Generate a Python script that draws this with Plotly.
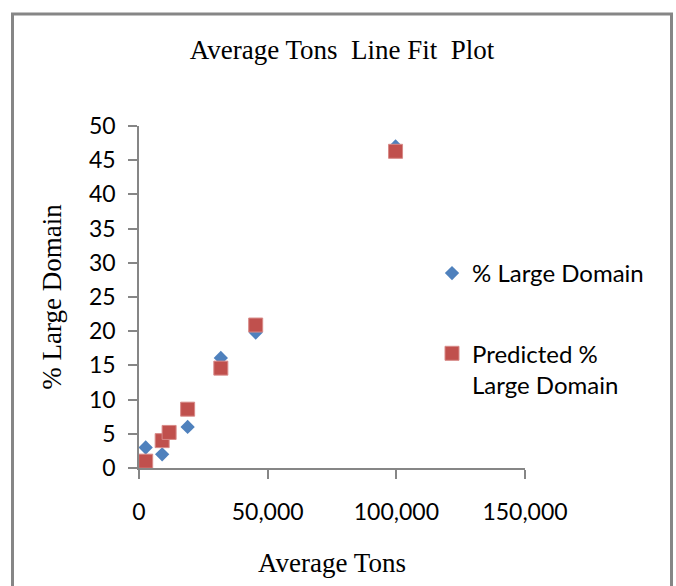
import plotly.graph_objects as go

# Average tons per site with observed and fitted share of large domain
avg_tons = [2600, 9000, 11700, 18900, 31800, 45350, 99700]
pct_large_domain = [3.0, 2.0, 5.1, 6.0, 16.1, 19.8, 47.0]
predicted_pct = [1.0, 4.0, 5.2, 8.6, 14.6, 20.9, 46.3]

x_ticks = [0, 50000, 100000, 150000]
y_ticks = [0, 5, 10, 15, 20, 25, 30, 35, 40, 45, 50]

BLUE = "#4F81BD"
RED = "#C0504D"
AXIS = "#868686"
SANS = "Lato"
SERIF = "Liberation Serif"

fig = go.Figure()
fig.add_trace(go.Scatter(
    x=avg_tons, y=pct_large_domain, mode="markers", name="% Large Domain",
    legendgroup="a",
    marker=dict(symbol="diamond", size=11, color=BLUE, line=dict(width=0)),
    cliponaxis=False,
))
fig.add_trace(go.Scatter(
    x=avg_tons, y=predicted_pct, mode="markers", name="Predicted %<br>Large Domain",
    legendgroup="b",
    marker=dict(symbol="square", size=14, color=RED, line=dict(width=1, color="#D88A88")),
    cliponaxis=False,
))

L, R, T, B = 139, 151, 126, 118
W = 676 - L - R
H = 586 - T - B

def px_x(p):
    return (p - L) / W

def px_y(p):
    return (586 - B - p) / H

# chart border
fig.add_shape(type="rect", xref="paper", yref="paper",
              x0=px_x(12.5), x1=px_x(671.5), y0=px_y(640), y1=px_y(14),
              line=dict(color=AXIS, width=3), fillcolor="rgba(0,0,0,0)", layer="below")

fig.update_layout(
    width=676, height=586,
    margin=dict(l=L, r=R, t=T, b=B),
    paper_bgcolor="white", plot_bgcolor="white",
    title=dict(text="Average Tons\u00a0 Line Fit\u00a0 Plot", xref="paper", x=px_x(342),
               xanchor="center", yref="container", y=1 - 50 / 586, yanchor="middle",
               font=dict(family=SERIF, size=27, color="black")),
    showlegend=True,
    legend=dict(x=px_x(432), xanchor="left", y=px_y(251), yanchor="top",
                traceorder="grouped", tracegroupgap=46, valign="top",
                font=dict(family=SANS, size=24, color="black"),
                bgcolor="rgba(0,0,0,0)"),
    xaxis=dict(range=[0, 150000], tickvals=x_ticks, tickformat=",",
               showgrid=False, zeroline=False, showline=True, linecolor=AXIS, linewidth=1.5,
               ticks="outside", ticklen=9, tickcolor=AXIS, tickwidth=1.5,
               ticklabelstandoff=14,
               tickfont=dict(family=SANS, size=23, color="black"),
               title=dict(text="Average Tons", standoff=29,
                          font=dict(family=SERIF, size=27, color="black"))),
    yaxis=dict(range=[0, 50], tickvals=y_ticks,
               showgrid=False, zeroline=False, showline=True, linecolor=AXIS, linewidth=1.5,
               ticks="outside", ticklen=9, tickcolor=AXIS, tickwidth=1.5,
               ticklabelstandoff=8,
               tickfont=dict(family=SANS, size=23, color="black"),
               title=dict(text="% Large Domain", standoff=20,
                          font=dict(family=SERIF, size=27, color="black"))),
)

fig.write_html("out.html")
